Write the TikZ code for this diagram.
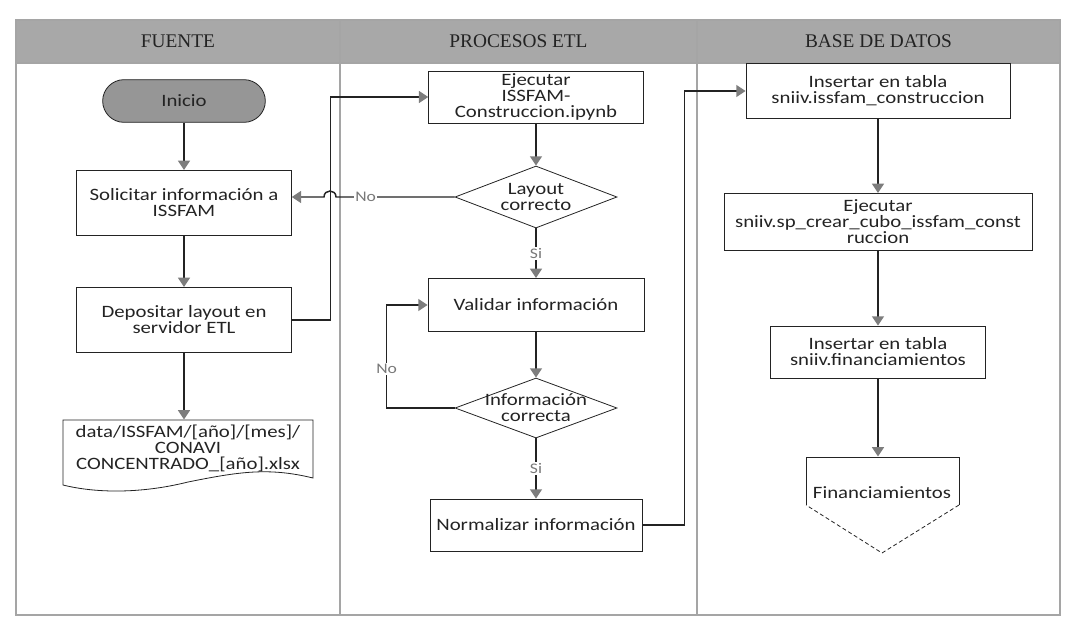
\documentclass[tikz,border=0pt]{standalone}
\usepackage{fontspec}
\setmainfont{Carlito}[FakeStretch=1.2]
\newfontfamily\lanefont{Liberation Serif}
\usetikzlibrary{shapes.geometric,arrows.meta}

\definecolor{headgray}{RGB}{168,168,168}
\definecolor{startgray}{RGB}{150,150,150}
\definecolor{framegray}{RGB}{165,165,165}
\definecolor{inkgray}{RGB}{35,35,35}
\definecolor{tipgray}{RGB}{125,125,125}
\definecolor{lblgray}{RGB}{120,120,120}

\tikzset{every picture/.style={line width=0.75pt}}
\tikzset{
  boxtext/.style={font=\fontsize{13}{12}\selectfont, text=inkgray, align=center},
  procbox/.style={draw=inkgray, line width=0.6pt, boxtext, inner sep=2pt},
  startbox/.style={procbox, fill=startgray, rounded corners=16pt},
  decision/.style={draw=inkgray, line width=0.6pt, shape=diamond, inner sep=0pt},
  flow/.style={draw=inkgray, line width=1.1pt, -{Triangle[length=7pt,width=9pt,color=tipgray]}},
  flowlbl/.style={font=\fontsize{11}{11}\selectfont, text=lblgray, fill=white, inner sep=1pt},
  lanehead/.style={draw=framegray, line width=1.2pt, fill=headgray, font=\lanefont\fontsize{14.5}{15}\selectfont, text=inkgray},
}

\begin{document}
\begin{tikzpicture}[x=0.75pt,y=0.75pt,yscale=-1,xscale=1]
\useasboundingbox (0,0) rectangle (1065,622);

%Shape: Lanes
\draw [framegray, line width=1.2pt] (16,63) rectangle (1060,615);
\draw [framegray, line width=1.2pt] (340,63) -- (340,615);
\draw [framegray, line width=1.2pt] (697,63) -- (697,615);
% Lane headers
\node [lanehead, minimum width=243pt, minimum height=32.25pt] (hfuente) at (178,41.5) {FUENTE};
\node [lanehead, minimum width=267.75pt, minimum height=32.25pt] (hetl) at (518.5,41.5) {PROCESOS ETL};
\node [lanehead, minimum width=272.25pt, minimum height=32.25pt] (hbase) at (878.5,41.5) {BASE DE DATOS};

% FUENTE
\node [startbox, minimum width=122pt, minimum height=32pt] (inicio) at (184,101) {Inicio};
\node [procbox, minimum width=161pt, minimum height=49pt] (solic) at (184,203) {Solicitar información a\\ISSFAM};
\node [procbox, minimum width=161pt, minimum height=49pt] (depos) at (184,320) {Depositar layout en\\servidor ETL};
% Text Node
\node [boxtext, minimum width=187.5pt, minimum height=42pt] (docu) at (188,448) {data/ISSFAM/[año]/[mes]/\\CONAVI\\CONCENTRADO\_[año].xlsx};
%Shape: Document
\draw [inkgray, line width=0.6pt] (63,485) -- (63,420) -- (313,420) -- (313,478) .. controls (268,467) and (238,472) .. (188,482) .. controls (140,494) and (95,493) .. (63,485) -- cycle;

% PROCESOS ETL
\node [procbox, minimum width=161pt, minimum height=39pt] (ejec) at (536,97) {Ejecutar\\ISSFAM-\\Construccion.ipynb};
\node [decision, minimum width=121.5pt, minimum height=46.5pt, label={[boxtext]center:Layout\\correcto}] (layout) at (536,197) {};
\node [procbox, minimum width=162pt, minimum height=40pt] (valid) at (536,305) {Validar información};
\node [decision, minimum width=121.5pt, minimum height=45pt, label={[boxtext]center:Información\\correcta}] (infoc) at (536,408) {};
\node [procbox, minimum width=159pt, minimum height=39pt] (normal) at (536,525) {Normalizar información};

% BASE DE DATOS
\node [procbox, minimum width=198pt, minimum height=41pt] (ins1) at (878,91) {Insertar en tabla\\sniiv.issfam\_construccion};
\node [procbox, minimum width=231pt, minimum height=43pt] (ejsql) at (878,222) {Ejecutar\\sniiv.sp\_crear\_cubo\_issfam\_const\\ruccion};
\node [procbox, minimum width=161pt, minimum height=39pt] (ins2) at (878,352) {Insertar en tabla\\sniiv.financiamientos};
% Text Node
\node [boxtext, minimum width=114.75pt, minimum height=54pt] (finan) at (882,493) {Financiamientos};
%Shape: Off-page
\draw [inkgray, line width=0.6pt] (806,505) -- (806,457) -- (959,457) -- (959,505);
\draw [inkgray, line width=0.6pt, dash pattern=on 3pt off 2pt] (959,505) -- (882,553) -- (806,505);

%Straight Lines
\draw [flow] (inicio) -- (inicio |- solic.north);
\draw [flow] (solic) -- (solic |- depos.north);
\draw [flow] (depos.south) -- (depos.south |- docu.north);
\draw [flow] (depos.east) -- ++(38.5,0) |- (ejec.west);
\draw [flow] (ejec) -- (layout);
\draw [flow] (layout.west) -- node [flowlbl, pos=0.75] {No} (336,197) .. controls (336,189) and (324,189) .. (324,197) -- (solic.east |- layout.west);
\draw [flow] (layout) -- node [flowlbl] {Si} (valid);
\draw [flow] (valid) -- (infoc);
\draw [flow] (infoc.west) -- ++(-68,0) |- node [flowlbl, pos=0.19] {No} (valid.west);
\draw [flow] (infoc) -- node [flowlbl] {Si} (normal);
\draw [flow] (normal.east) -- ++(42,0) |- (ins1.west);
\draw [flow] (ins1) -- (ejsql);
\draw [flow] (ejsql) -- (ins2);
\draw [flow] (ins2.south) -- (ins2.south |- finan.north);

\end{tikzpicture}
\end{document}
